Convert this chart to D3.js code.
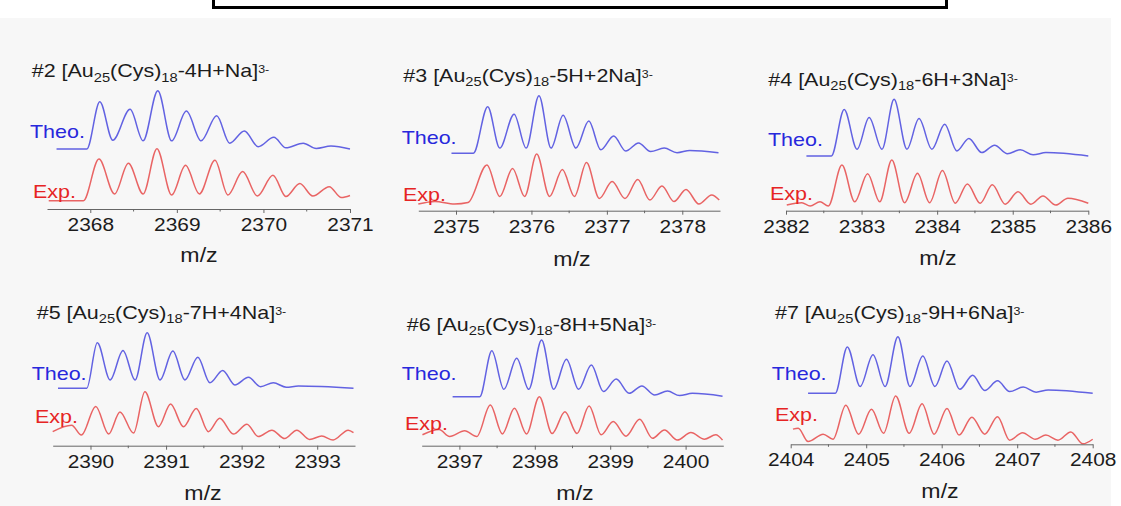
<!DOCTYPE html>
<html>
<head>
<meta charset="utf-8">
<script src="https://cdn.jsdelivr.net/npm/d3@7"></script>
<style>
  html, body { margin: 0; padding: 0; background: #ffffff; }
  svg { display: block; }
</style>
</head>
<body>
<div id="chart"></div>
<script>
// ---- data (m/z, relative intensity) ----
const panelIds = ["#2", "#3", "#4", "#5", "#6", "#7"];
const adducts = ["-4H+Na", "-5H+2Na", "-6H+3Na", "-7H+4Na", "-8H+5Na", "-9H+6Na"];
const xDomains = [[2367.5, 2371], [2374.5, 2378.5], [2382, 2386], [2389.5, 2393.5], [2396.5, 2400.5], [2404, 2408]];
const xTicks = [
  [2368, 2369, 2370, 2371],
  [2375, 2376, 2377, 2378],
  [2382, 2383, 2384, 2385, 2386],
  [2390, 2391, 2392, 2393],
  [2397, 2398, 2399, 2400],
  [2404, 2405, 2406, 2407, 2408]
];

const theo2 = [[2367.61,0],[2367.96,0],[2368.11,81],[2368.26,15],[2368.46,68],[2368.61,14],[2368.78,100],[2368.94,14],[2369.11,65],[2369.28,14],[2369.46,57],[2369.61,10],[2369.78,31],[2369.94,4],[2370.12,20],[2370.26,2],[2370.46,10],[2370.61,1],[2370.78,5],[2371.0,0]];
const exp2 = [[2367.52,0],[2367.92,0],[2368.10,80],[2368.28,13],[2368.44,72],[2368.61,13],[2368.77,100],[2368.94,11],[2369.10,68],[2369.26,13],[2369.44,78],[2369.59,11],[2369.76,56],[2369.93,9],[2370.11,49],[2370.26,8],[2370.42,33],[2370.57,9],[2370.76,27],[2370.90,6],[2371.0,10]];

const theo3 = [[2374.94,0],[2375.23,0],[2375.42,81],[2375.58,9],[2375.77,68],[2375.93,9],[2376.10,100],[2376.26,9],[2376.42,66],[2376.59,9],[2376.76,56],[2376.92,6],[2377.09,30],[2377.25,4],[2377.42,18],[2377.58,3],[2377.76,9],[2377.93,1],[2378.10,5],[2378.48,1]];
const exp3 = [[2374.5,0],[2374.72,5],[2374.98,0],[2375.16,3],[2375.41,78],[2375.58,15],[2375.75,71],[2375.91,15],[2376.07,100],[2376.24,15],[2376.41,69],[2376.57,15],[2376.73,83],[2376.90,11],[2377.07,45],[2377.24,11],[2377.41,49],[2377.57,8],[2377.73,36],[2377.89,5],[2378.05,29],[2378.22,0],[2378.39,18],[2378.49,8]];

const theo4 = [[2382.27,0],[2382.60,0],[2382.77,82],[2382.94,12],[2383.10,68],[2383.27,12],[2383.43,100],[2383.60,12],[2383.76,66],[2383.93,12],[2384.10,56],[2384.26,9],[2384.42,31],[2384.59,6],[2384.76,19],[2384.93,4],[2385.10,11],[2385.27,2],[2385.44,6],[2386.0,0]];
const exp4 = [[2382.01,2],[2382.21,7],[2382.32,0],[2382.45,9],[2382.56,0],[2382.74,89],[2382.91,9],[2383.08,70],[2383.24,9],[2383.40,100],[2383.57,7],[2383.74,71],[2383.90,7],[2384.07,77],[2384.24,6],[2384.40,48],[2384.57,6],[2384.73,46],[2384.90,4],[2385.07,31],[2385.24,4],[2385.40,22],[2385.57,2],[2385.73,17],[2386.0,6]];

const theo5 = [[2389.57,0],[2389.95,0],[2390.09,82],[2390.26,15],[2390.43,68],[2390.59,15],[2390.75,100],[2390.92,15],[2391.09,67],[2391.25,15],[2391.42,56],[2391.58,10],[2391.75,32],[2391.91,6],[2392.09,20],[2392.25,3],[2392.42,10],[2392.59,2],[2392.75,4],[2393.48,0]];
const exp5 = [[2389.50,19],[2389.75,32],[2389.88,12],[2390.07,70],[2390.24,14],[2390.39,59],[2390.57,16],[2390.72,100],[2390.90,29],[2391.06,75],[2391.23,29],[2391.40,66],[2391.56,19],[2391.71,46],[2391.89,14],[2392.07,34],[2392.22,9],[2392.40,22],[2392.57,5],[2392.73,22],[2392.90,3],[2393.06,10],[2393.21,2],[2393.41,22],[2393.48,17]];

const theo6 = [[2396.91,0],[2397.27,0],[2397.43,81],[2397.59,13],[2397.76,68],[2397.92,13],[2398.09,100],[2398.25,13],[2398.42,66],[2398.58,13],[2398.75,56],[2398.91,9],[2399.08,31],[2399.25,6],[2399.42,19],[2399.59,3],[2399.76,10],[2399.92,2],[2400.09,6],[2400.49,1]];
const exp6 = [[2396.51,14],[2396.73,26],[2396.87,10],[2397.07,23],[2397.23,10],[2397.41,81],[2397.57,16],[2397.73,74],[2397.89,16],[2398.06,100],[2398.23,17],[2398.40,66],[2398.56,17],[2398.72,79],[2398.88,14],[2399.04,44],[2399.21,11],[2399.39,49],[2399.56,6],[2399.72,25],[2399.89,2],[2400.07,19],[2400.25,4],[2400.40,14],[2400.49,2]];

const theo7 = [[2404.23,0],[2404.59,0],[2404.75,82],[2404.92,12],[2405.09,68],[2405.25,12],[2405.42,100],[2405.58,12],[2405.75,66],[2405.91,12],[2406.07,57],[2406.24,7],[2406.41,32],[2406.57,5],[2406.74,22],[2406.90,3],[2407.08,11],[2407.25,2],[2407.41,6],[2408.0,0]];
const exp7 = [[2404.03,28],[2404.10,30],[2404.23,1],[2404.43,17],[2404.56,6],[2404.73,80],[2404.90,17],[2405.07,71],[2405.23,19],[2405.39,100],[2405.57,19],[2405.74,83],[2405.90,17],[2406.07,73],[2406.23,15],[2406.40,54],[2406.57,17],[2406.74,55],[2406.90,4],[2407.07,20],[2407.24,6],[2407.38,15],[2407.54,4],[2407.71,22],[2407.87,-4],[2408.0,6]];

const theoSeries = [theo2, theo3, theo4, theo5, theo6, theo7];
const expSeries = [exp2, exp3, exp4, exp5, exp6, exp7];

// ---- layout (pixel positions of each panel) ----
const layout = [
  {x0: 47,    x1: 350,    axisY: 209,   theo: [149, 90.7],   exp: [200.7, 148.7], title: [31.7, 77.3], theoLbl: [30, 138],    expLbl: [33, 197.5], mz: [199, 262]},
  {x0: 418.3, x1: 720,    axisY: 210.7, theo: [153.3, 95.7], exp: [204, 154],     title: [403.3, 81.7], theoLbl: [401.7, 144], expLbl: [403, 201],  mz: [572, 266]},
  {x0: 786,   x1: 1088.3, axisY: 210.7, theo: [156, 99.3],   exp: [206, 160],     title: [768.3, 86],  theoLbl: [768, 146],   expLbl: [770, 200],  mz: [938, 265]},
  {x0: 52.7,  x1: 355,    axisY: 445.7, theo: [388.3, 332.7], exp: [441, 391.7],  title: [36.7, 319],  theoLbl: [31.7, 380],  expLbl: [35, 423],   mz: [203, 500]},
  {x0: 421.7, x1: 723.3,  axisY: 445.7, theo: [396.7, 340],  exp: [441, 396.7],   title: [406.7, 331], theoLbl: [401.7, 380], expLbl: [405, 430],  mz: [575, 500]},
  {x0: 790.7, x1: 1092.7, axisY: 444.3, theo: [393.3, 336.7], exp: [442, 396],    title: [775, 319],   theoLbl: [771.7, 380], expLbl: [775, 421],  mz: [940, 498]}
];

const width = 1121;
const height = 506;
const SX = 1.13;               // the figure is a little stretched horizontally
const FONT = "'Liberation Sans', Arial, sans-serif";
const textColor = "#1c1c1c";
const blueText = "#2828dc";
const redText = "#e62424";
const blueLine = "#6262e2";
const redLine = "#e96464";

const svg = d3.select("#chart").append("svg")
    .attr("width", width)
    .attr("height", height)
    .attr("viewBox", [0, 0, width, height])
    .style("font-family", FONT);

// page background and the cut-off box at the top
svg.append("rect").attr("x", 0).attr("y", 0).attr("width", width).attr("height", height).attr("fill", "#ffffff");
svg.append("rect").attr("x", 0).attr("y", 18).attr("width", width - 10).attr("height", height - 18).attr("fill", "#f7f7f7");
svg.append("rect")
    .attr("x", 213.5).attr("y", -6).attr("width", 733).attr("height", 13.5)
    .attr("fill", "none").attr("stroke", "#000").attr("stroke-width", 3);

function addText(g, x, y, anchor) {
  return g.append("text")
      .attr("transform", `translate(${x},${y}) scale(${SX},1)`)
      .attr("text-anchor", anchor || "start");
}

layout.forEach((p, i) => {
  const g = svg.append("g");
  const x = d3.scaleLinear().domain(xDomains[i]).range([p.x0, p.x1]);
  const yTheo = d3.scaleLinear().domain([0, 100]).range(p.theo);
  const yExp = d3.scaleLinear().domain([0, 100]).range(p.exp);

  // spectra
  const lineTheo = d3.line().x(d => x(d[0])).y(d => yTheo(d[1])).curve(d3.curveMonotoneX);
  const lineExp = d3.line().x(d => x(d[0])).y(d => yExp(d[1])).curve(d3.curveMonotoneX);

  g.append("path")
      .attr("d", lineTheo(theoSeries[i]))
      .attr("fill", "none")
      .attr("stroke", blueLine)
      .attr("stroke-width", 1.5)
      .attr("stroke-linejoin", "round");

  g.append("path")
      .attr("d", lineExp(expSeries[i]))
      .attr("fill", "none")
      .attr("stroke", redLine)
      .attr("stroke-width", 1.5)
      .attr("stroke-linejoin", "round");

  // x axis
  const axis = g.append("g")
      .attr("transform", `translate(0,${p.axisY})`)
      .call(d3.axisBottom(x)
          .tickValues(xTicks[i])
          .tickSize(4)
          .tickSizeOuter(0)
          .tickPadding(5)
          .tickFormat(d3.format("d")));
  axis.select(".domain").attr("stroke", "#666").attr("stroke-width", 1);
  axis.selectAll(".tick line").attr("stroke", "#666");
  axis.selectAll(".tick text")
      .attr("fill", textColor)
      .attr("font-size", 18.5)
      .attr("font-family", FONT)
      .attr("transform", `scale(${SX},1)`);

  // minor ticks at half units
  const minor = d3.range(Math.ceil(xDomains[i][0] * 2) / 2, xDomains[i][1], 0.5)
      .filter(v => v % 1 !== 0 && v > xDomains[i][0]);
  axis.selectAll(".minor")
      .data(minor)
      .join("line")
      .attr("class", "minor")
      .attr("x1", d => x(d)).attr("x2", d => x(d))
      .attr("y1", 0).attr("y2", 2.5)
      .attr("stroke", "#666");

  // axis title
  addText(g, p.mz[0], p.mz[1], "middle")
      .attr("font-size", 20.5)
      .attr("fill", textColor)
      .text("m/z");

  // series labels
  addText(g, p.theoLbl[0], p.theoLbl[1])
      .attr("font-size", 19)
      .attr("fill", blueText)
      .text("Theo.");
  addText(g, p.expLbl[0], p.expLbl[1])
      .attr("font-size", 19)
      .attr("fill", redText)
      .text("Exp.");

  // panel title: #n [Au25(Cys)18-xH+yNa]3-
  const t = addText(g, p.title[0], p.title[1])
      .attr("font-size", 19)
      .attr("fill", textColor);
  t.append("tspan").text(panelIds[i] + " [Au");
  t.append("tspan").attr("font-size", 13).attr("dy", 4.4).text("25");
  t.append("tspan").attr("dy", -4.4).text("(Cys)");
  t.append("tspan").attr("font-size", 13).attr("dy", 4.4).text("18");
  t.append("tspan").attr("dy", -4.4).text(adducts[i] + "]");
  t.append("tspan").attr("font-size", 11).attr("dy", -4).text("3-");
});
</script>
</body>
</html>
